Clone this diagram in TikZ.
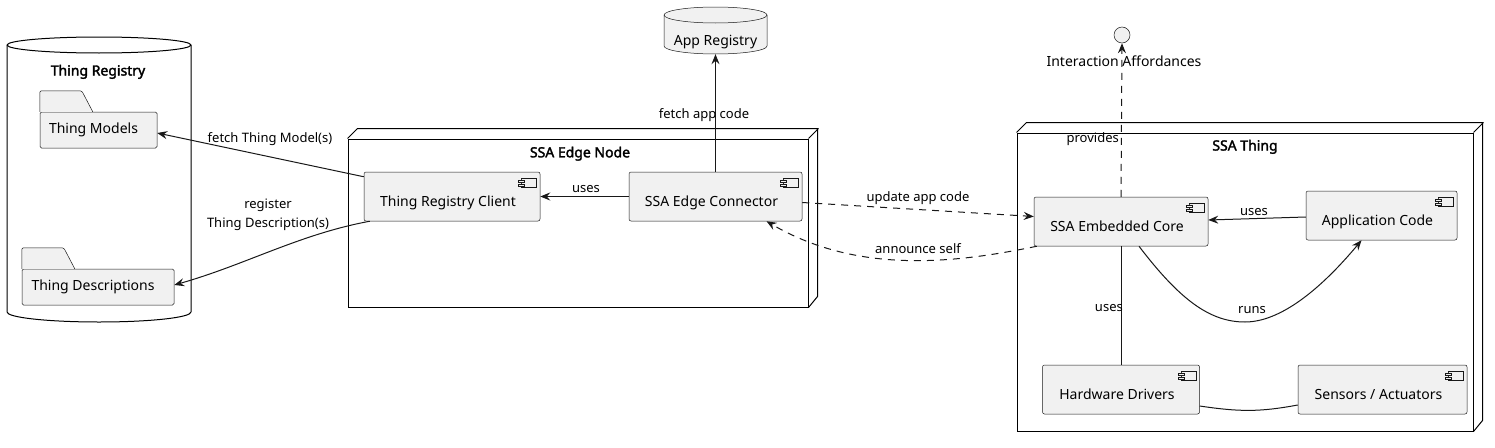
\documentclass[tikz,border=0pt]{standalone}
\usepackage{fontspec}
\setmainfont{Noto Sans}
\newfontfamily\titlefont{Noto Sans}[FakeBold=2.2]
\usetikzlibrary{arrows.meta,calc}

\definecolor{compfill}{HTML}{F1F1F1}
\definecolor{umlline}{HTML}{181818}

\begin{document}
\begin{tikzpicture}[x=1pt,y=-1pt,
  comp/.style={rectangle,draw=umlline,line width=0.5pt,fill=compfill,rounded corners=2pt,
               minimum height=49pt,inner sep=0pt,text height=22pt,text depth=2pt,
               font=\fontsize{14}{17}\selectfont,execute at end node={\hspace*{8pt}}},
  folder/.style={rectangle,draw=umlline,line width=0.5pt,fill=compfill,rounded corners=1.5pt,
               minimum height=36pt,inner sep=0pt,text height=10pt,text depth=3pt,
               font=\fontsize{14}{17}\selectfont,execute at end node={\hspace*{10pt}}},
  nodebox/.style={rectangle,draw=black,line width=1pt,inner sep=0pt},
  title/.style={font=\titlefont\fontsize{14}{17}\selectfont,inner sep=0pt,anchor=base},
  lbl/.style={font=\fontsize{13}{19}\selectfont,inner sep=0pt,anchor=base},
  arrow/.style={-{Stealth[length=10pt,width=8pt,inset=3.5pt]},draw=umlline,line width=1pt},
  dasharrow/.style={arrow,dash pattern=on 7pt off 6pt}]

\useasboundingbox (0,0) rectangle (1495,447);

% Thing Registry (database)
\draw[line width=1pt,fill=white] (7,45) -- (7,312)
  arc[start angle=180,end angle=0,x radius=92,y radius=10] -- (191,45)
  arc[start angle=360,end angle=180,x radius=92,y radius=8] -- cycle;
\draw[line width=1pt] (7,45) arc[start angle=180,end angle=0,x radius=92,y radius=8];
\node[title] (regtitle) at (98,75.5) {Thing Registry};

\node[folder,minimum width=117pt] (models) at (98.5,130) {Thing Models};
\node[folder,minimum width=152pt] (descr) at (98,287) {Thing Descriptions};
\foreach \n in {models,descr}
  \draw[umlline,line width=0.5pt,fill=compfill,rounded corners=1.5pt]
    (\n.north west) -- ++(0,-21) -- ++(42,0) -- ++(11,21);

% App Registry (database)
\draw[umlline,line width=0.5pt,fill=compfill] (664,15) -- (664,46)
  arc[start angle=180,end angle=0,x radius=51.5,y radius=8] -- (767,15)
  arc[start angle=360,end angle=180,x radius=51.5,y radius=8] -- cycle;
\draw[umlline,line width=0.5pt] (664,15) arc[start angle=180,end angle=0,x radius=51.5,y radius=8];
\node[minimum width=103pt,minimum height=47pt,inner sep=0pt,text height=31pt,text depth=2pt,
      font=\fontsize{14}{17}\selectfont] (appreg) at (715.5,30.5) {App Registry};

% SSA Edge Node
\node[nodebox,minimum width=460pt,minimum height=168pt] (edge) at (578,223) {};
\draw[line width=1pt] (edge.north west) -- ++(10,-10) -- ++(460,0) -- ++(0,168) -- (edge.south east)
  (edge.north east) -- ++(10,-10);
\node[title] (edgetitle) at (580,157.3) {SSA Edge Node};

% SSA Thing
\node[nodebox,minimum width=456pt,minimum height=298pt] (thing) at (1245,282) {};
\draw[line width=1pt] (thing.north west) -- ++(10,-10) -- ++(456,0) -- ++(0,298) -- (thing.south east)
  (thing.north east) -- ++(10,-10);
\node[title] (thingtitle) at (1245,150.5) {SSA Thing};

% components
\node[comp,minimum width=176pt] (client) at (452,196.5) {Thing Registry Client};
\node[comp,minimum width=173pt] (conn) at (715.5,196.5) {SSA Edge Connector};
\node[comp,minimum width=174pt] (core) at (1121,221.5) {SSA Embedded Core};
\node[comp,minimum width=151pt] (app) at (1381.5,215.5) {Application Code};
\node[comp,minimum width=157pt] (hw) at (1121,389.5) {Hardware Drivers};
\node[comp,minimum width=169pt] (sens) at (1382.5,389.5) {Sensors / Actuators};

\foreach \n in {client,conn,core,app,hw,sens}{
  \draw[umlline,line width=0.5pt,fill=compfill] ($(\n.north east)+(-19,6)$) rectangle ++(15,9);
  \draw[umlline,line width=0.5pt,fill=compfill] ($(\n.north east)+(-22,8)$) rectangle ++(6,2.5)
    ($(\n.north east)+(-22,12)$) rectangle ++(6,2.5);
}

% interface
\node[circle,draw=umlline,line width=0.5pt,fill=compfill,minimum size=16pt,inner sep=0pt] (iface) at (1122,35) {};
\node[font=\fontsize{14}{17}\selectfont,inner sep=0pt,anchor=base] (ifacelbl) at (1124,66) {Interaction Affordances};

% connectors
\draw[arrow] ([yshift=-5pt]client.north west) -- ([yshift=-3pt]models.east);
\node[lbl] (lfetchtm) at (270,142.5) {fetch Thing Model(s)};

\draw[arrow] ([xshift=6pt]client.south west) .. controls (300,234) and (245,265) .. ([yshift=2pt]descr.east);
\node[lbl,anchor=center,align=center] (lregister) at (268,215) {register\\Thing Description(s)};

\draw[arrow] (conn.west) -- (client.east);
\node[lbl] (lusesclient) at (586,192.7) {uses};

\draw[arrow] (conn.north) -- (appreg.south);
\node[lbl] (lfetchapp) at (704,118.3) {fetch app code};

\draw[dasharrow] ([yshift=-6pt]conn.east) -- ([yshift=5pt]core.west);
\node[lbl] (lupdate) at (918,201.7) {update app code};

\draw[dasharrow] ([xshift=3pt]core.south west) .. controls (960,262) and (860,276) .. ([xshift=51pt]conn.south);
\node[lbl] (lannounce) at (918,253.3) {announce self};

\draw[arrow] ([yshift=-1.5pt]app.west) -- ([yshift=1.5pt]core.east);
\node[lbl] (lusesapp) at (1254,215) {uses};

\draw[arrow] ([xshift=18pt]core.south) .. controls (1180,300) and (1210,322) .. (1245,322)
  .. controls (1280,322) and (1320,290) .. ([xshift=-20pt]app.south);
\node[lbl] (lruns) at (1252,313) {runs};

\draw[umlline,line width=1pt] (core.south) -- (hw.north);
\node[lbl,anchor=base east] (luseshw) at (1123,311) {uses};

\draw[dasharrow] (core.north) -- (iface.south);
\node[lbl,anchor=base east] (lprovides) at (1119,142.7) {provides};

\draw[umlline,line width=1pt] ([yshift=-16.5pt]hw.east) .. controls (1240,412) and (1260,412) .. ([yshift=-15.5pt]sens.west);
\end{tikzpicture}
\end{document}
